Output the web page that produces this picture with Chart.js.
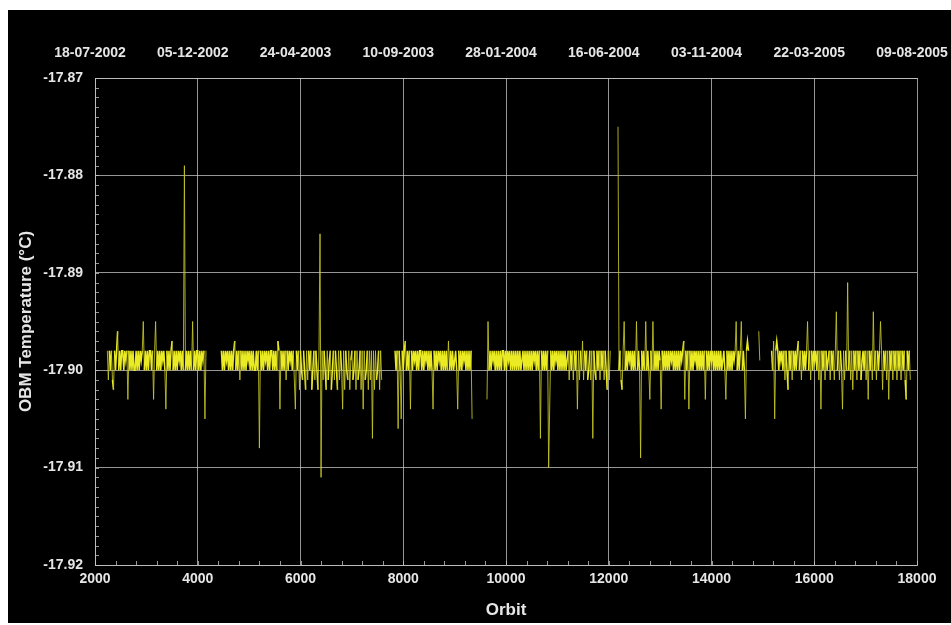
<!DOCTYPE html>
<html>
<head>
<meta charset="utf-8">
<script src="https://cdn.jsdelivr.net/npm/chart.js@4.4.1/dist/chart.umd.min.js"></script>
<style>
  html, body { margin: 0; padding: 0; background: #fff; }
  #box { position: absolute; left: 8px; top: 10px; width: 943px; height: 613px; background: #000; }
</style>
</head>
<body>
<div id="box"><canvas id="obmChart"></canvas></div>
<script>
// orbit ticks and their dates on the top axis
const orbitTicks = [2000, 4000, 6000, 8000, 10000, 12000, 14000, 16000, 18000];
const dateLabels = ['18-07-2002', '05-12-2002', '24-04-2003', '10-09-2003', '28-01-2004',
  '16-06-2004', '03-11-2004', '22-03-2005', '09-08-2005'];
const tempTicks = [-17.92, -17.91, -17.90, -17.89, -17.88, -17.87];

// OBM temperature, one value every 20 orbits, split where the record has gaps
const orbitStep = 20;

const seg1Start = 2240;
const seg1 = [
  -17.898, -17.901, -17.898, -17.900, -17.898, -17.901, -17.902, -17.898, -17.900, -17.898,
  -17.896, -17.900, -17.898, -17.900, -17.898, -17.898, -17.900, -17.898, -17.899, -17.898,
  -17.903, -17.898, -17.900, -17.898, -17.900, -17.898, -17.900, -17.900, -17.898, -17.900,
  -17.898, -17.900, -17.898, -17.899, -17.898, -17.895, -17.900, -17.898, -17.900, -17.898,
  -17.900, -17.898, -17.898, -17.900, -17.898, -17.903, -17.898, -17.895, -17.900, -17.898,
  -17.900, -17.898, -17.900, -17.898, -17.899, -17.898, -17.900, -17.904, -17.898, -17.900,
  -17.898, -17.900, -17.898, -17.897, -17.900, -17.898, -17.900, -17.898, -17.900, -17.898,
  -17.899, -17.898, -17.900, -17.898, -17.900, -17.879, -17.900, -17.898, -17.900, -17.898,
  -17.900, -17.898, -17.900, -17.895, -17.900, -17.898, -17.900, -17.898, -17.898, -17.900,
  -17.898, -17.900, -17.898, -17.899, -17.898, -17.905, -17.898
];

const seg2Start = 4460;
const seg2 = [
  -17.898, -17.900, -17.898, -17.900, -17.898, -17.899, -17.898, -17.900, -17.898, -17.900,
  -17.898, -17.900, -17.898, -17.897, -17.900, -17.898, -17.900, -17.898, -17.901, -17.898,
  -17.900, -17.898, -17.900, -17.898, -17.900, -17.898, -17.899, -17.898, -17.900, -17.898,
  -17.900, -17.898, -17.900, -17.900, -17.898, -17.900, -17.898, -17.908, -17.898, -17.900,
  -17.898, -17.900, -17.898, -17.899, -17.898, -17.900, -17.898, -17.900, -17.898, -17.898,
  -17.900, -17.898, -17.900, -17.898, -17.900, -17.897, -17.898, -17.904, -17.898, -17.900,
  -17.898, -17.900, -17.898, -17.901, -17.898, -17.900, -17.898, -17.899, -17.898, -17.900,
  -17.898, -17.901, -17.904, -17.898, -17.900, -17.898, -17.902, -17.898, -17.900, -17.901,
  -17.898, -17.900, -17.902, -17.898, -17.901, -17.898, -17.900, -17.898, -17.902, -17.900,
  -17.898, -17.901, -17.898, -17.900, -17.902, -17.898, -17.886, -17.911, -17.898, -17.901,
  -17.898, -17.900, -17.902, -17.898, -17.901, -17.899, -17.898, -17.902, -17.900, -17.898,
  -17.901, -17.898, -17.900, -17.902, -17.898, -17.901, -17.898, -17.900, -17.904, -17.898,
  -17.902, -17.898, -17.900, -17.901, -17.898, -17.902, -17.899, -17.898, -17.901, -17.900,
  -17.898, -17.902, -17.898, -17.901, -17.900, -17.898, -17.902, -17.898, -17.904, -17.898,
  -17.901, -17.900, -17.898, -17.902, -17.898, -17.901, -17.898, -17.907, -17.898, -17.902,
  -17.898, -17.901, -17.900, -17.898, -17.902, -17.898, -17.901
];

const seg3Start = 7840;
const seg3 = [
  -17.898, -17.900, -17.898, -17.906, -17.898, -17.900, -17.905, -17.898, -17.900, -17.898,
  -17.897, -17.900, -17.898, -17.900, -17.898, -17.904, -17.898, -17.900, -17.898, -17.899,
  -17.898, -17.900, -17.898, -17.900, -17.898, -17.898, -17.900, -17.898, -17.900, -17.898,
  -17.899, -17.898, -17.900, -17.898, -17.900, -17.898, -17.900, -17.904, -17.898, -17.900,
  -17.898, -17.900, -17.898, -17.899, -17.898, -17.900, -17.898, -17.900, -17.898, -17.900,
  -17.898, -17.900, -17.897, -17.900, -17.898, -17.900, -17.898, -17.900, -17.899, -17.898,
  -17.900, -17.904, -17.898, -17.900, -17.898, -17.900, -17.898, -17.899, -17.898, -17.900,
  -17.898, -17.900, -17.898, -17.900, -17.898, -17.905
];

const seg4Start = 9630;
const seg4 = [
  -17.903, -17.895, -17.900, -17.898, -17.900, -17.898, -17.899, -17.898, -17.900, -17.898,
  -17.900, -17.898, -17.900, -17.898, -17.900, -17.898, -17.898, -17.900, -17.898, -17.900,
  -17.898, -17.899, -17.898, -17.900, -17.898, -17.900, -17.898, -17.900, -17.898, -17.900,
  -17.898, -17.900, -17.898, -17.900, -17.899, -17.898, -17.900, -17.898, -17.900, -17.898,
  -17.900, -17.898, -17.900, -17.898, -17.900, -17.898, -17.899, -17.898, -17.900, -17.898,
  -17.900, -17.898, -17.907, -17.898, -17.900, -17.898, -17.900, -17.898, -17.900, -17.898,
  -17.910, -17.904, -17.898, -17.900, -17.898, -17.900, -17.898, -17.899, -17.898, -17.900,
  -17.898, -17.900, -17.898, -17.900, -17.898, -17.900, -17.898, -17.900, -17.899, -17.898,
  -17.901, -17.898, -17.900, -17.898, -17.901, -17.898, -17.900, -17.898, -17.904, -17.898,
  -17.901, -17.898, -17.900, -17.897, -17.901, -17.898, -17.900, -17.898, -17.901, -17.900,
  -17.898, -17.901, -17.898, -17.907, -17.898, -17.900, -17.901, -17.898, -17.900, -17.898,
  -17.901, -17.898, -17.900, -17.898, -17.901, -17.898, -17.900, -17.902, -17.898, -17.901,
  -17.898
];

const seg5Start = 12180;
const seg5 = [
  -17.875, -17.900, -17.898, -17.901, -17.902, -17.898, -17.895, -17.900, -17.898, -17.900,
  -17.898, -17.899, -17.898, -17.900, -17.898, -17.900, -17.898, -17.900, -17.895, -17.900,
  -17.898, -17.900, -17.909, -17.898, -17.900, -17.898, -17.900, -17.895, -17.900, -17.898,
  -17.900, -17.903, -17.898, -17.900, -17.895, -17.900, -17.898, -17.900, -17.898, -17.900,
  -17.898, -17.899, -17.904, -17.898, -17.900, -17.898, -17.900, -17.898, -17.900, -17.898,
  -17.900, -17.898, -17.899, -17.898, -17.900, -17.898, -17.900, -17.898, -17.900, -17.898,
  -17.900, -17.898, -17.899, -17.898, -17.897, -17.903, -17.898, -17.900, -17.898, -17.904,
  -17.898, -17.900, -17.898, -17.900, -17.898, -17.899, -17.898, -17.900, -17.898, -17.900,
  -17.898, -17.900, -17.898, -17.900, -17.898, -17.903, -17.898, -17.900, -17.898, -17.900,
  -17.898, -17.899, -17.898, -17.900, -17.898, -17.900, -17.898, -17.900, -17.898, -17.900,
  -17.898, -17.900, -17.899, -17.898, -17.900, -17.903, -17.898, -17.900, -17.898, -17.900,
  -17.898, -17.900, -17.898, -17.899, -17.898, -17.895, -17.900, -17.898, -17.900, -17.898,
  -17.895, -17.900, -17.898, -17.900, -17.905, -17.898, -17.897, -17.898
];

const seg6Start = 14920;
const seg6 = [-17.896, -17.899];

const seg7Start = 15170;
const seg7 = [
  -17.898, -17.900, -17.897, -17.905, -17.898, -17.897, -17.898, -17.900, -17.898, -17.899,
  -17.898, -17.900, -17.898, -17.901, -17.898, -17.900, -17.902, -17.898, -17.900, -17.898,
  -17.901, -17.898, -17.900, -17.898, -17.900, -17.898, -17.897, -17.900, -17.898, -17.901,
  -17.898, -17.900, -17.898, -17.900, -17.898, -17.895, -17.900, -17.898, -17.901, -17.898,
  -17.900, -17.898, -17.899, -17.898, -17.900, -17.898, -17.901, -17.898, -17.904, -17.898,
  -17.900, -17.898, -17.901, -17.898, -17.900, -17.899, -17.898, -17.901, -17.898, -17.900,
  -17.898, -17.901, -17.898, -17.894, -17.900, -17.898, -17.901, -17.898, -17.900, -17.904,
  -17.898, -17.901, -17.898, -17.900, -17.891, -17.900, -17.898, -17.901, -17.898, -17.902,
  -17.898, -17.900, -17.898, -17.901, -17.898, -17.900, -17.898, -17.901, -17.899, -17.898,
  -17.900, -17.898, -17.901, -17.898, -17.903, -17.898, -17.900, -17.898, -17.901, -17.894,
  -17.900, -17.898, -17.901, -17.898, -17.900, -17.898, -17.895, -17.898, -17.902, -17.898,
  -17.900, -17.898, -17.901, -17.898, -17.903, -17.898, -17.900, -17.898, -17.901, -17.898,
  -17.900, -17.898, -17.901, -17.898, -17.900, -17.898, -17.901, -17.898, -17.900, -17.898,
  -17.901, -17.903, -17.898, -17.900, -17.898, -17.901
];

const segments = [
  [seg1Start, seg1], [seg2Start, seg2], [seg3Start, seg3], [seg4Start, seg4],
  [seg5Start, seg5], [seg6Start, seg6], [seg7Start, seg7]
];

const points = [];
segments.forEach(([start, vals]) => {
  vals.forEach((v, i) => points.push({ x: start + i * orbitStep, y: v }));
  // break the line between segments
  points.push({ x: start + vals.length * orbitStep, y: null });
});

const textColor = '#e6e6e6';
const gridColor = 'rgba(200, 200, 200, 0.75)';
const tickFont = { family: 'Liberation Sans, Arial, sans-serif', size: 14, weight: 'bold' };
const titleFont = { family: 'Liberation Sans, Arial, sans-serif', size: 17, weight: 'bold' };

// long jumps (the spikes) look thin and dim in the original
const isSpike = c => Math.abs(c.p1.parsed.y - c.p0.parsed.y) > 0.0025;

// small inward ticks on the left and bottom axes
const minorTicks = {
  id: 'minorTicks',
  afterDraw(chart) {
    const { ctx, chartArea, scales } = chart;
    ctx.save();
    ctx.strokeStyle = gridColor;
    ctx.lineWidth = 1;
    ctx.beginPath();
    for (let k = 0; k <= 50; k++) {
      const py = Math.round(scales.y.getPixelForValue(-17.92 + k * 0.001)) + 0.5;
      ctx.moveTo(chartArea.left, py);
      ctx.lineTo(chartArea.left + 4, py);
    }
    for (let k = 0; k <= 40; k++) {
      const px = Math.round(scales.x.getPixelForValue(2000 + k * 400)) + 0.5;
      ctx.moveTo(px, chartArea.bottom);
      ctx.lineTo(px, chartArea.bottom - 4);
    }
    ctx.stroke();
    ctx.restore();
  }
};

new Chart(document.getElementById('obmChart'), {
  type: 'line',
  data: {
    datasets: [{
      data: points,
      borderColor: 'rgb(235, 235, 36)',
      borderWidth: 1.5,
      pointRadius: 0,
      spanGaps: false,
      tension: 0,
      segment: {
        borderColor: c => isSpike(c) ? 'rgba(200, 200, 40, 0.85)' : undefined,
        borderWidth: c => isSpike(c) ? 1 : undefined
      }
    }]
  },
  options: {
    responsive: true,
    maintainAspectRatio: false,
    animation: false,
    layout: { padding: { right: 34 } },
    plugins: { legend: { display: false }, tooltip: { enabled: false } },
    scales: {
      x: {
        type: 'linear',
        position: 'bottom',
        min: 2000,
        max: 18000,
        afterBuildTicks: s => { s.ticks = orbitTicks.map(v => ({ value: v })); },
        afterFit: s => { s.height = 58; s.paddingLeft = 0; s.paddingRight = 0; },
        ticks: { color: textColor, font: tickFont, padding: 6, maxRotation: 0, callback: v => String(v) },
        grid: { color: gridColor, drawTicks: false },
        border: { color: gridColor },
        title: { display: true, text: 'Orbit', color: textColor, font: titleFont, padding: { bottom: 2 } }
      },
      x2: {
        type: 'linear',
        position: 'top',
        min: 2000,
        max: 18000,
        afterBuildTicks: s => { s.ticks = orbitTicks.map(v => ({ value: v })); },
        afterFit: s => { s.height = 68; s.paddingLeft = 0; s.paddingRight = 0; },
        ticks: {
          color: textColor, font: tickFont, padding: 16, maxRotation: 0, labelOffset: -5,
          callback: v => dateLabels[orbitTicks.indexOf(v)]
        },
        grid: { display: false, drawTicks: false },
        border: { color: gridColor }
      },
      y: {
        min: -17.92,
        max: -17.87,
        afterBuildTicks: s => { s.ticks = tempTicks.map(v => ({ value: v })); },
        afterFit: s => { s.width = 87; },
        ticks: { color: textColor, font: tickFont, padding: 12, callback: v => v.toFixed(2) },
        grid: { color: gridColor, drawTicks: false },
        border: { color: gridColor },
        title: { display: true, text: 'OBM Temperature (°C)', color: textColor, font: titleFont, padding: { top: 8 } }
      }
    }
  },
  plugins: [minorTicks]
});
</script>
</body>
</html>
